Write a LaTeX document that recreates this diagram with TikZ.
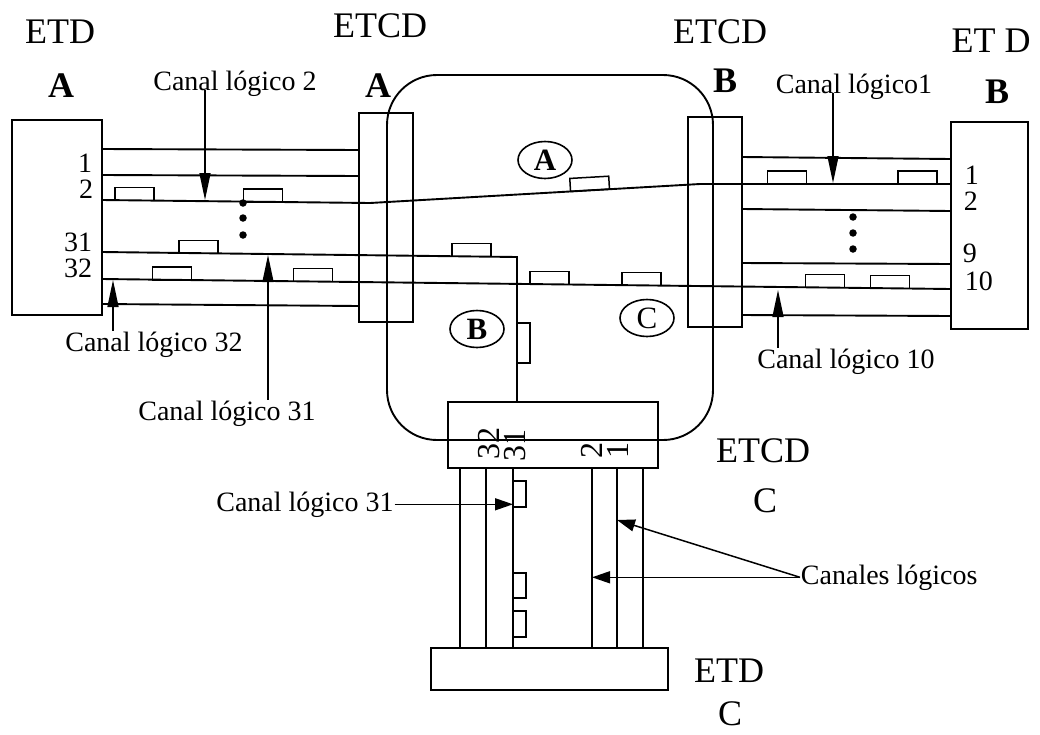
\documentclass[tikz,border=0pt]{standalone}
\usepackage{fontspec}
\setmainfont{Liberation Serif}
\usetikzlibrary{arrows.meta,shapes.geometric}
\begin{document}
\begin{tikzpicture}[x=1pt,y=-1pt,line width=1.9pt,
  box/.style={draw,line width=1.9pt,inner sep=0pt,outer sep=0pt,anchor=north west},
  pkt/.style={draw,line width=1.5pt,inner sep=0pt,outer sep=0pt,minimum width=39pt,minimum height=13pt,anchor=south},
  vpkt/.style={draw,line width=1.5pt,inner sep=0pt,outer sep=0pt,minimum width=13pt,anchor=north west},
  dotn/.style={circle,fill,inner sep=0pt,minimum size=7.5pt},
  big/.style={font=\fontsize{36}{40}\selectfont,inner sep=0pt,anchor=base},
  bigb/.style={font=\fontsize{36}{40}\selectfont\bfseries,inner sep=0pt,anchor=base},
  num/.style={font=\fontsize{28}{29}\selectfont,inner sep=0pt},
  rnum/.style={font=\fontsize{32}{34}\selectfont,inner sep=0pt,rotate=90},
  chl/.style={font=\fontsize{28}{30}\selectfont,inner sep=0pt,anchor=base},
  circ/.style={draw,ellipse,line width=1.6pt,inner sep=0pt,minimum width=54pt,minimum height=37pt,font=\fontsize{31}{32}\selectfont},
  varr/.style={-{Triangle[length=27pt,width=11pt]},line width=1.5pt},
  harr/.style={-{Triangle[length=18pt,width=12pt]},line width=1.5pt}
]
\useasboundingbox (0,0) rectangle (1040,734);

% network cloud
\node[draw,rounded corners=50pt,minimum width=326pt,minimum height=365pt,anchor=north west,inner sep=0pt,outer sep=0pt] (net) at (387,75) {};

% boxes
\node[box,minimum width=90pt,minimum height=195pt] (etdA) at (12,120) {};
\node[box,minimum width=54pt,minimum height=209pt] (etcdA) at (359,113) {};
\node[box,minimum width=54pt,minimum height=210pt] (etcdB) at (688,117) {};
\node[box,minimum width=77pt,minimum height=207pt] (etdB) at (951,122) {};
\node[box,minimum width=210pt,minimum height=66pt] (etcdC) at (448,402) {};
\node[box,minimum width=237pt,minimum height=42pt] (etdC) at (431,648) {};

% left channel lines
\draw (etdA.east |- 0,149) -- (etcdA.west |- 0,150);
\draw (etdA.east |- 0,175) -- (etcdA.west |- 0,176);
\draw (etdA.east |- 0,304) -- (etcdA.west |- 0,306);
% through lines
\draw (etdA.east |- 0,200) -- (370,203) -- (700,184) -- (etdB.west |- 0,184);
\draw (etdA.east |- 0,252) -- (517,257) -- (etcdC.north -| 517,0);
\draw (etdA.east |- 0,279) -- (etdB.west |- 0,289);
% right channel lines
\draw (etcdB.east |- 0,157) -- (etdB.west |- 0,159);
\draw (etcdB.east |- 0,209) -- (etdB.west |- 0,211);
\draw (etcdB.east |- 0,263) -- (etdB.west |- 0,264);
\draw (etcdB.east |- 0,315) -- (etdB.west |- 0,316);
% C channel lines
\foreach \xx in {460,486,513,592,617,643}
  \draw (etcdC.south -| \xx,0) -- (etdC.north -| \xx,0);

% packets
\node[pkt] (p1) at (134.5,200.5) {};
\node[pkt] (p2) at (263,201.8) {};
\node[pkt] (p3) at (198.5,253.3) {};
\node[pkt] (p4) at (172,279.9) {};
\node[pkt] (p5) at (313,281.5) {};
\node[pkt] (p6) at (471.5,256.6) {};
\node[pkt] (p7) at (549.5,284.3) {};
\node[pkt] (p8) at (641.5,285.4) {};
\node[pkt] (p9) at (825,287.6) {};
\node[pkt] (p10) at (890,288.4) {};
\node[pkt] (p11) at (787,184) {};
\node[pkt] (p12) at (917.5,184) {};
\node[pkt,rotate=3.3] (pA) at (590,190.3) {};
\node[vpkt,minimum height=40pt] (pB) at (517,323) {};
\node[vpkt,minimum height=26pt] (pc1) at (513,481) {};
\node[vpkt,minimum height=25pt] (pc2) at (513,573) {};
\node[vpkt,minimum height=26pt] (pc3) at (513,611) {};

% dots
\node[dotn] (d1) at (243,203) {};
\node[dotn] (d2) at (243,218) {};
\node[dotn] (d3) at (243,235) {};
\node[dotn] (d4) at (853,217) {};
\node[dotn] (d5) at (853,233) {};
\node[dotn] (d6) at (853,249) {};

% circled labels
\node[circ,font=\fontsize{31}{32}\selectfont\bfseries] (nA) at (545,160) {A};
\node[circ,font=\fontsize{31}{32}\selectfont\bfseries] (nB) at (477,329) {B};
\node[circ] (nC) at (647,318) {C};

% titles
\node[big] (tETDA) at (60,43) {ETD};
\node[bigb] (tA1) at (61,97) {A};
\node[big] (tETCDA) at (380,37) {ETCD};
\node[bigb] (tA2) at (378,97) {A};
\node[big] (tETCDB) at (720,43) {ETCD};
\node[bigb] (tB1) at (725,92) {B};
\node[big] (tETDB) at (991,52) {ET D};
\node[bigb] (tB2) at (997,103) {B};
\node[big] (tETCDC) at (763,462) {ETCD};
\node[big] (tC1) at (765,512) {C};
\node[big] (tETDC) at (729,682) {ETD};
\node[big] (tC2) at (730,725) {C};

% channel numbers
\node[num,anchor=base east] (nl1) at (93,172) {1};
\node[num,anchor=base east] (nl2) at (94,198) {2};
\node[num,anchor=base east] (nl31) at (93,251) {31};
\node[num,anchor=base east] (nl32) at (93,277) {32};
\node[num,anchor=base west] (nr1) at (964,184) {1};
\node[num,anchor=base west] (nr2) at (963,210) {2};
\node[num,anchor=base west] (nr9) at (962,262) {9};
\node[num,anchor=base west] (nr10) at (964,290) {10};
\node[rnum] (nc32) at (489,443) {32};
\node[rnum] (nc31) at (515,445) {31};
\node[rnum] (nc2) at (592,450) {2};
\node[rnum] (nc1) at (618,450) {1};

% channel labels and arrows
\node[chl] (c2) at (235,90) {Canal lógico 2};
\node[chl] (c1) at (854,93) {Canal lógico1};
\node[chl] (c32) at (154,351) {Canal lógico 32};
\node[chl] (c31) at (227,420) {Canal lógico 31};
\node[chl] (c10) at (846,368) {Canal lógico 10};
\node[chl] (c31c) at (305,511) {Canal lógico 31};
\node[chl,anchor=base west] (cls) at (800,584) {Canales lógicos};

\draw[varr] (c2.base -| 205,0) -- (205,200);
\draw[varr] (c1.base -| 833,0) -- (833,183);
\draw[varr] (c32.north -| 113,0) -- (113,280);
\draw[varr] (c31.north -| 268,0) -- (268,255);
\draw[varr] (c10.north -| 778,0) -- (778,290);
\draw[harr] (c31c.east) -- (c31c.east -| 513,0);
\draw[harr] (cls.west) -- (cls.west -| 592,0);
\draw[harr] (cls.west) -- (617,520);
\end{tikzpicture}
\end{document}
